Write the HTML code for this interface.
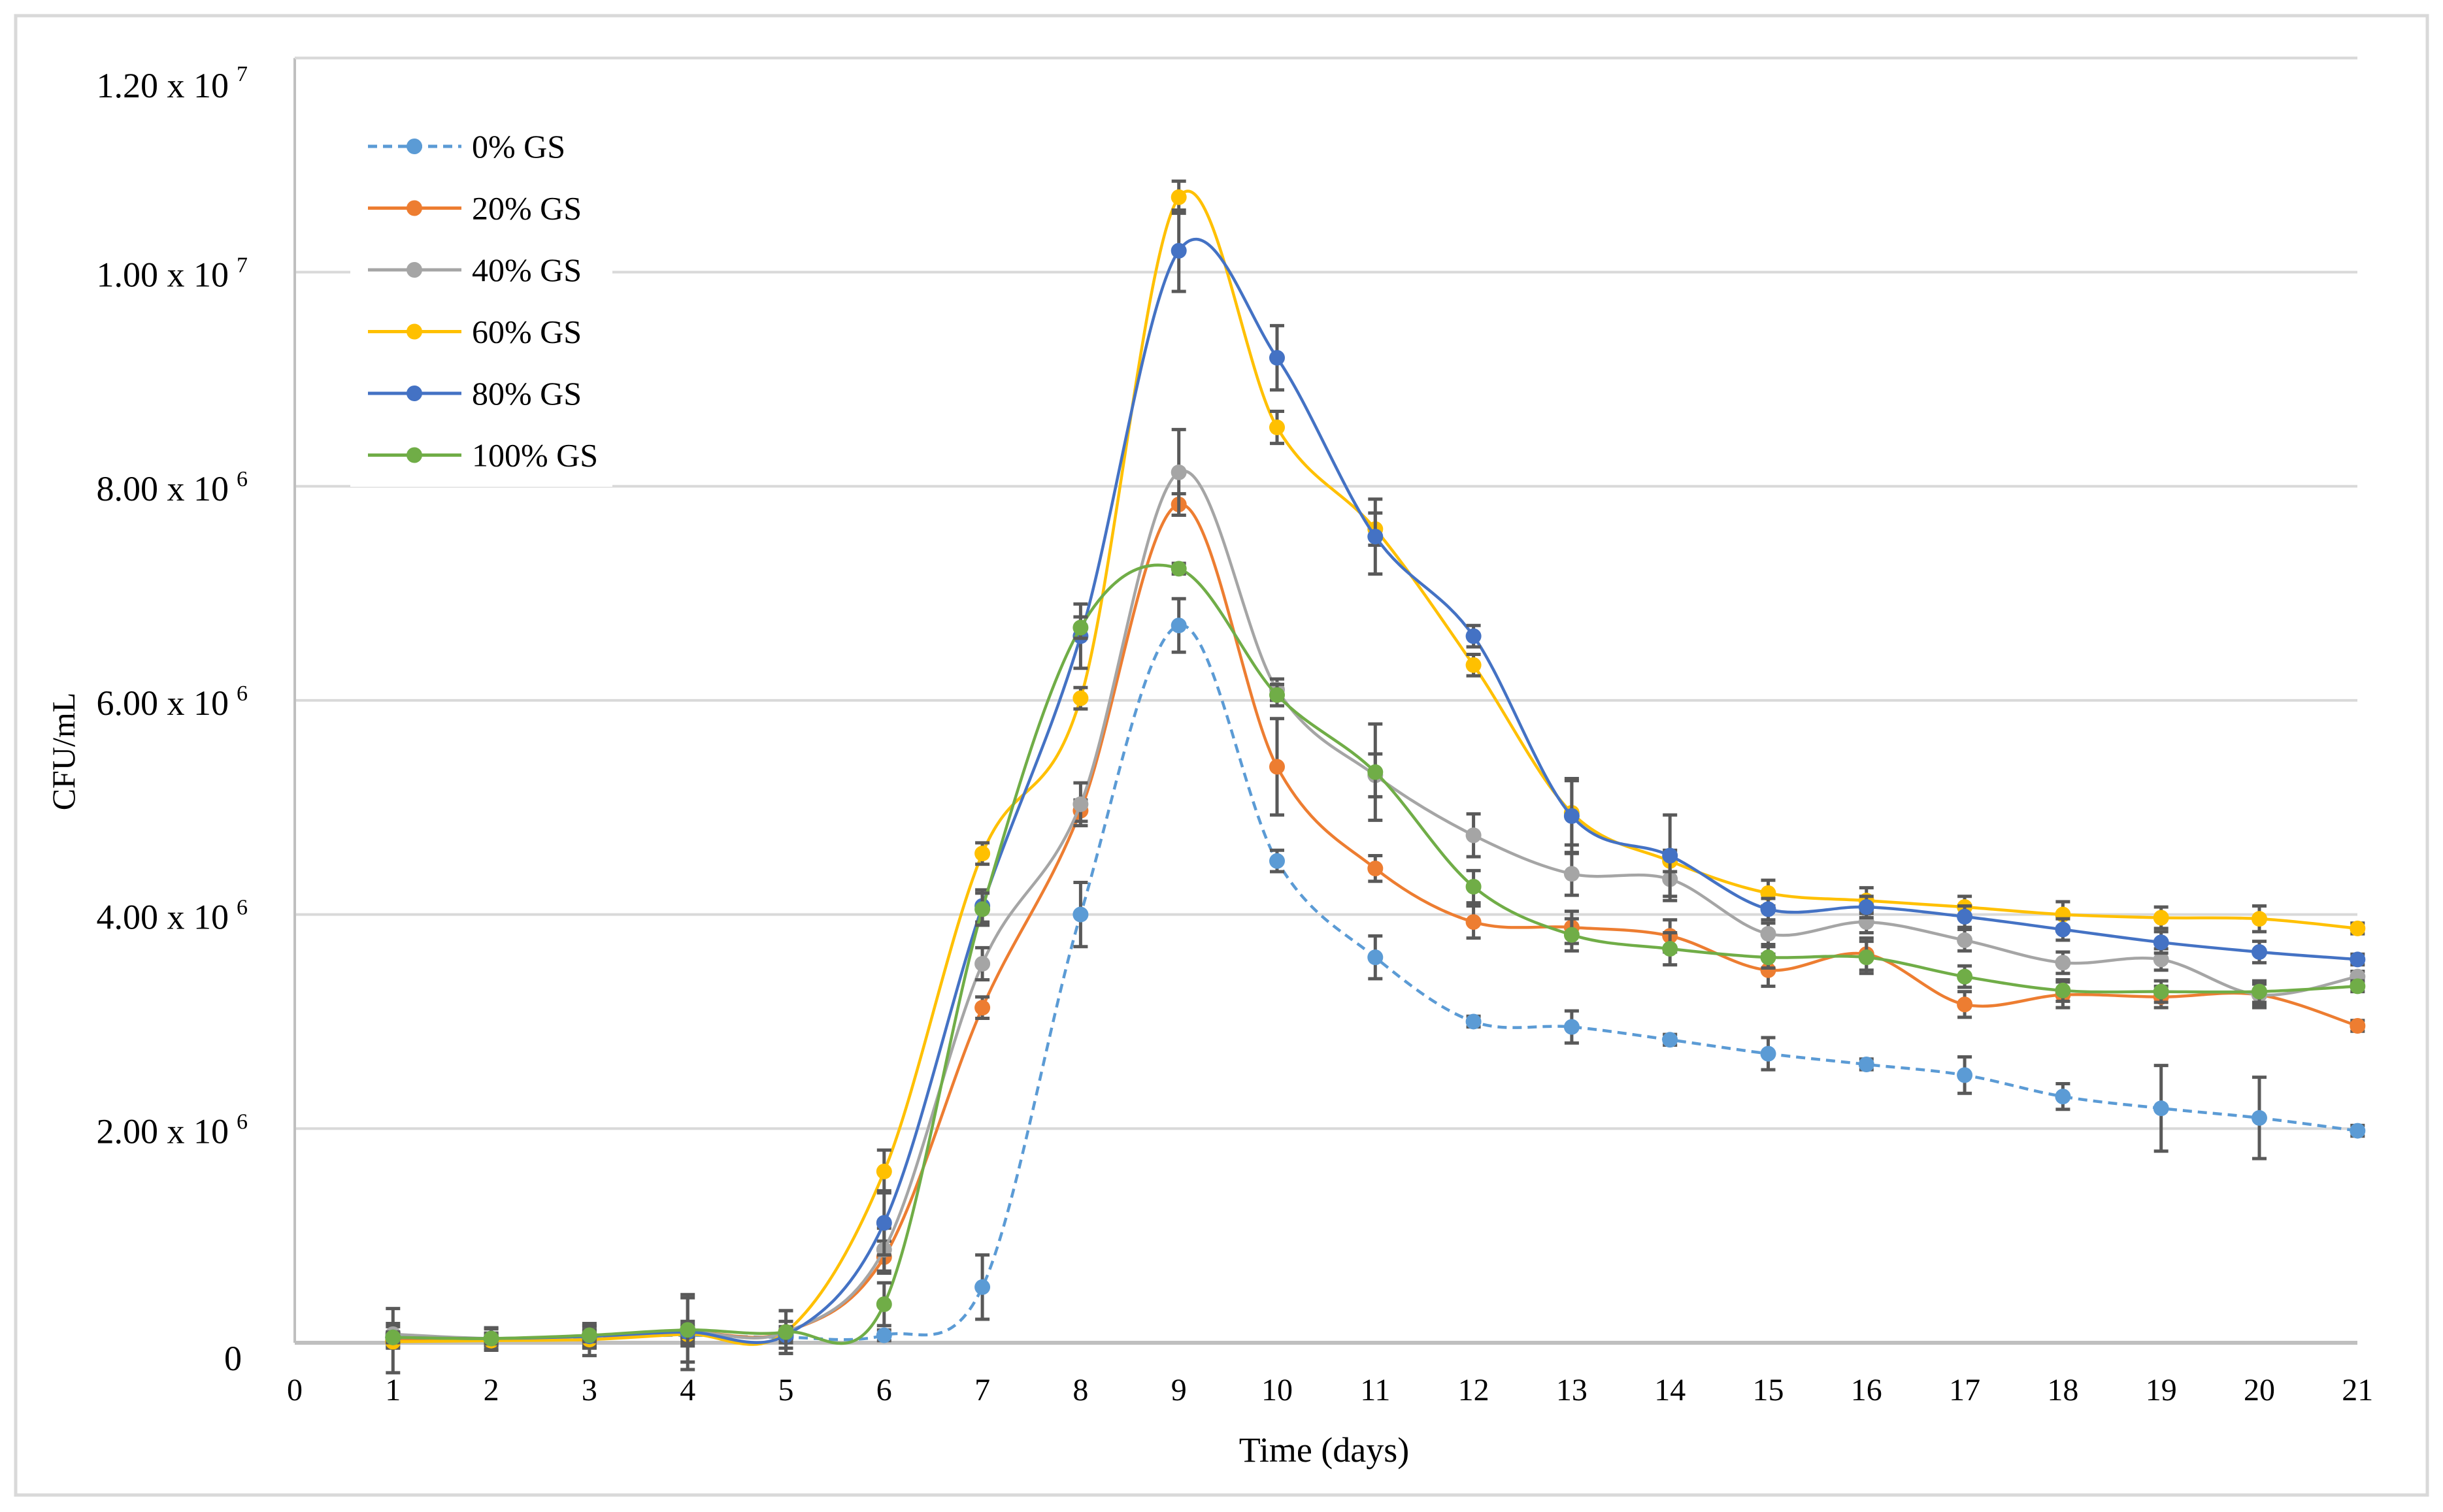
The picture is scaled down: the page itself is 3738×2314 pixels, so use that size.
<!DOCTYPE html>
<html><head><meta charset="utf-8"><style>
body{margin:0;background:#fff}
svg text{font-family:"Liberation Serif",serif;fill:#000}
</style></head><body>
<svg id="chart" width="3738" height="2309" viewBox="0 0 3738 2309" xmlns="http://www.w3.org/2000/svg">
<rect x="24" y="24" width="3690" height="2264" fill="#fff" stroke="#d9d9d9" stroke-width="5"/>
<g id="grid"></g><g id="series"></g><g id="labels"></g>
<text x="2026" y="2237" font-size="54" text-anchor="middle">Time (days)</text>
<text transform="translate(114,1150) rotate(-90)" font-size="50" text-anchor="middle">CFU/mL</text>
<g id="legend"></g>
</svg>
<script>
const days=[1,2,3,4,5,6,7,8,9,10,11,12,13,14,15,16,17,18,19,20,21];
const xTicks=[0,1,2,3,4,5,6,7,8,9,10,11,12,13,14,15,16,17,18,19,20,21];
const yTickVals=[0,2,4,6,8,10,12];
const yTickLabels=["0","2.00 x 10","4.00 x 10","6.00 x 10","8.00 x 10","1.00 x 10","1.20 x 10"];
const yTickExp=["","6","6","6","6","7","7"];
const names=["0% GS","20% GS","40% GS","60% GS","80% GS","100% GS"];
const colors=["#5B9BD5","#ED7D31","#A5A5A5","#FFC000","#4472C4","#70AD47"];
const s0=[0.05,0.03,0.05,0.07,0.05,0.07,0.52,4.0,6.7,4.5,3.6,3.0,2.95,2.83,2.7,2.6,2.5,2.3,2.19,2.1,1.98];
const s20=[0.02,0.03,0.03,0.1,0.1,0.8,3.13,4.97,7.83,5.38,4.43,3.93,3.88,3.8,3.48,3.63,3.16,3.25,3.23,3.25,2.96];
const s40=[0.08,0.04,0.06,0.1,0.1,0.87,3.54,5.03,8.13,6.1,5.3,4.74,4.38,4.33,3.82,3.93,3.76,3.55,3.58,3.25,3.42];
const s60=[0.01,0.02,0.03,0.08,0.1,1.6,4.57,6.02,10.7,8.55,7.6,6.33,4.95,4.5,4.2,4.13,4.07,4.0,3.97,3.96,3.87];
const s80=[0.05,0.04,0.06,0.1,0.07,1.12,4.08,6.6,10.2,9.2,7.53,6.6,4.92,4.55,4.05,4.07,3.98,3.86,3.74,3.65,3.58];
const s100=[0.05,0.04,0.07,0.12,0.1,0.36,4.05,6.68,7.23,6.05,5.33,4.26,3.81,3.68,3.6,3.6,3.42,3.29,3.28,3.28,3.33];
const e0=[0.1,0.05,0.1,0.1,0.1,0.05,0.3,0.3,0.25,0.1,0.2,0.05,0.15,0.05,0.15,0.05,0.17,0.12,0.4,0.38,0.05];
const e20=[0.3,0.1,0.15,0.35,0.2,0.15,0.1,0.1,0.1,0.45,0.12,0.15,0.15,0.15,0.15,0.15,0.12,0.12,0.1,0.12,0.05];
const e40=[0.1,0.1,0.1,0.1,0.1,0.2,0.15,0.2,0.4,0.1,0.2,0.2,0.2,0.2,0.1,0.1,0.1,0.1,0.1,0.1,0.05];
const e60=[0.05,0.05,0.05,0.05,0.05,0.2,0.1,0.1,0.15,0.15,0.15,0.1,0.3,0.1,0.12,0.12,0.1,0.12,0.1,0.12,0.05];
const e80=[0.05,0.05,0.05,0.05,0.05,0.3,0.15,0.3,0.38,0.3,0.35,0.1,0.35,0.38,0.1,0.1,0.1,0.1,0.1,0.1,0.05];
const e100=[0.05,0.05,0.05,0.3,0.2,0.2,0.15,0.1,0.05,0.1,0.45,0.15,0.15,0.15,0.1,0.15,0.1,0.1,0.1,0.1,0.05];
const series=[s0,s20,s40,s60,s80,s100];
const errs=[e0,e20,e40,e60,e80,e100];

const NS="http://www.w3.org/2000/svg";
const X0=451,DX=150.3,Y0=2055,DY=163.85,XR=3607;
const xs=d=>X0+d*DX, ys=v=>Y0-v*DY;
function el(t,a,p){const e=document.createElementNS(NS,t);for(const k in a)e.setAttribute(k,a[k]);p.appendChild(e);return e;}
const grid=document.getElementById('grid'),lab=document.getElementById('labels');
yTickVals.forEach((v,i)=>{
  if(v>0){const g=el('line',{x1:X0,x2:XR,y1:ys(v),y2:ys(v),stroke:'#d9d9d9','stroke-width':4},grid);
  
  }
  const t=el('text',{x:i==0?370:350,y:ys(v)+ (i==0?42:(i==6?60:22)),'font-size':54,'text-anchor':'end'},lab);
  
  
  t.textContent=yTickLabels[i];
  if(yTickExp[i]){const s=el('text',{x:362,y:ys(v)+(i==6?35:0),'font-size':34},lab);
  
  
  s.textContent=yTickExp[i];}
});
const la=el('line',{x1:X0,x2:X0,y1:ys(12),y2:Y0,stroke:'#bfbfbf','stroke-width':4},grid);


const ba=el('line',{x1:X0,x2:XR,y1:Y0,y2:Y0,stroke:'#bfbfbf','stroke-width':6},grid);


const ta=el('line',{x1:X0,x2:XR,y1:ys(12),y2:ys(12),stroke:'#d9d9d9','stroke-width':4},grid);


xTicks.forEach(d=>{const t=el('text',{x:xs(d),y:2143,'font-size':48,'text-anchor':'middle'},lab);
  
  
  t.textContent=d;});
function smooth(p){let d=`M${p[0][0]},${p[0][1]}`;
  for(let i=0;i<p.length-1;i++){const a=p[Math.max(0,i-1)],b=p[i],c=p[i+1],e=p[Math.min(p.length-1,i+2)];
    const c1=[b[0]+(c[0]-a[0])/6,b[1]+(c[1]-a[1])/6],c2=[c[0]-(e[0]-b[0])/6,c[1]-(e[1]-b[1])/6];
    d+=` C${c1[0]},${c1[1]} ${c2[0]},${c2[1]} ${c[0]},${c[1]}`;}
  return d;}
const sg=document.getElementById('series');
series.forEach((s,k)=>{
  const g=el('g',{},sg);
  
  
  const pts=days.map((d,i)=>[xs(d),ys(s[i])]);
  const p=el('path',{d:smooth(pts),fill:'none',stroke:colors[k],'stroke-width':4.5},g);
  if(k==0)p.setAttribute('stroke-dasharray','14 9');
  
  
  days.forEach((d,i)=>{
    const e=errs[k][i],x=xs(d);
    const eb=el('path',{d:`M${x},${ys(s[i]-e)}V${ys(s[i]+e)}M${x-11},${ys(s[i]-e)}h22M${x-11},${ys(s[i]+e)}h22`,stroke:'#595959','stroke-width':5,fill:'none'},g);
    
    
  });
  days.forEach((d,i)=>{
    const c=el('circle',{cx:xs(d),cy:ys(s[i]),r:12,fill:colors[k]},g);
    
    
  });
});
const lg=document.getElementById('legend');
el('rect',{x:536,y:155,width:401,height:590,fill:'#fff'},lg);
names.forEach((n,k)=>{
  const y=224+k*94.5;
  const g=el('g',{},lg);
  
  
  const l=el('line',{x1:563,x2:706,y1:y,y2:y,stroke:colors[k],'stroke-width':5},g);
  if(k==0)l.setAttribute('stroke-dasharray','14 9');
  el('circle',{cx:634,cy:y,r:12,fill:colors[k]},g);
  const t=el('text',{x:722,y:y+17,'font-size':50},g);
  t.textContent=n;
});
</script>
</body></html>
